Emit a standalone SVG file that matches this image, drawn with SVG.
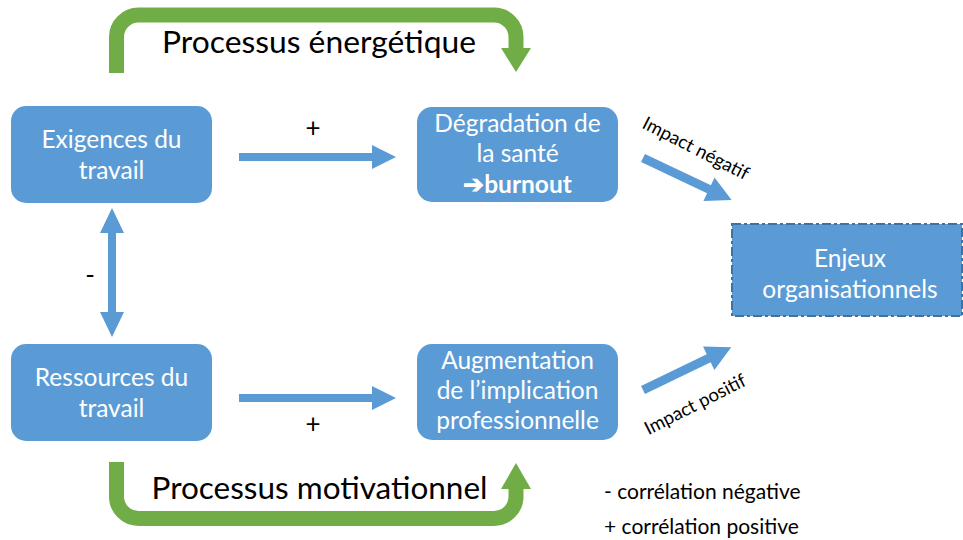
<svg xmlns="http://www.w3.org/2000/svg" width="963" height="540" viewBox="0 0 963 540">
  <style>
    .box { fill: #5b9bd5; }
    .boxtext { font-family: Lato, "Open Sans", sans-serif; font-size: 24.5px; fill: #ffffff; text-anchor: middle; }
    .arrow { fill: #5b9bd5; }
    .uturn { fill: none; stroke: #70ad47; stroke-width: 15; }
    .head { fill: #70ad47; }
    .label { font-family: Lato, "Open Sans", sans-serif; fill: #000000; }
  </style>
  <rect width="963" height="540" fill="#ffffff"/>

  <!-- connectors -->
  <g id="connectors">
    <!-- energy process U-turn -->
    <path class="uturn" d="M116.5 73 V37 A22 22 0 0 1 138.5 15 H494 A22 22 0 0 1 516 37 V49"/>
    <polygon class="head" points="501,48 531,48 516,72"/>
    <!-- motivational process U-turn -->
    <path class="uturn" d="M116.5 462 V496.5 A22 22 0 0 0 138.5 518.5 H494 A22 22 0 0 0 516 496.5 V487"/>
    <polygon class="head" points="501,489 531,489 516,463"/>
    <!-- demands -> health -->
    <polygon class="arrow" points="239,153 372,153 372,145 396,157 372,169 372,161 239,161"/>
    <!-- resources -> engagement -->
    <polygon class="arrow" points="239,394 372,394 372,386 396,398 372,410 372,402 239,402"/>
    <!-- demands <-> resources -->
    <polygon class="arrow" points="112,208 124,233 116,233 116,312 124,312 112,337 100,312 108,312 108,233 100,233"/>
    <!-- impacts -->
    <polygon class="arrow" transform="translate(643,158) rotate(25.3)" points="0,-4.5 73,-4.5 73,-13 98,0 73,13 73,4.5 0,4.5"/>
    <polygon class="arrow" transform="translate(643,390) rotate(-25.8)" points="0,-4.5 73,-4.5 73,-13 98,0 73,13 73,4.5 0,4.5"/>

    <text class="label" x="319" y="53" font-size="31.8" text-anchor="middle">Processus énergétique</text>
    <text class="label" x="319.5" y="499" font-size="31.5" text-anchor="middle">Processus motivationnel</text>
    <text class="label" x="313" y="137" font-size="26" text-anchor="middle">+</text>
    <text class="label" x="313" y="433" font-size="26" text-anchor="middle">+</text>
    <text class="label" x="90" y="284" font-size="26" text-anchor="middle">-</text>
    <text class="label" font-size="18.5" text-anchor="middle" transform="translate(693,154) rotate(27)">Impact négatif</text>
    <text class="label" font-size="18.5" text-anchor="middle" transform="translate(698,410) rotate(-27)">Impact positif</text>
  </g>

  <g id="exigences">
    <rect class="box" x="11" y="106" width="201" height="97" rx="15"/>
    <text class="boxtext" x="111.5" y="148">Exigences du</text>
    <text class="boxtext" x="111.5" y="179">travail</text>
  </g>

  <g id="ressources">
    <rect class="box" x="11" y="344" width="201" height="97" rx="15"/>
    <text class="boxtext" x="111.5" y="386">Ressources du</text>
    <text class="boxtext" x="111.5" y="417">travail</text>
  </g>

  <g id="degradation">
    <rect class="box" x="417" y="107" width="201" height="95" rx="15"/>
    <text class="boxtext" x="517.5" y="132">Dégradation de</text>
    <text class="boxtext" x="517.5" y="162">la santé</text>
    <text class="boxtext" x="517.5" y="193" font-weight="bold">➔burnout</text>
  </g>

  <g id="augmentation">
    <rect class="box" x="417" y="344" width="201" height="96" rx="15"/>
    <text class="boxtext" x="517.5" y="369">Augmentation</text>
    <text class="boxtext" x="517.5" y="399">de l’implication</text>
    <text class="boxtext" x="517.5" y="429">professionnelle</text>
  </g>

  <g id="enjeux">
    <rect class="box" x="732" y="224" width="230" height="92" stroke="#41719c" stroke-width="2" stroke-dasharray="9 3 3 3"/>
    <text class="boxtext" x="850" y="267">Enjeux</text>
    <text class="boxtext" x="850" y="298">organisationnels</text>
  </g>

  <g id="legend">
    <text class="label" x="604" y="499" font-size="21">- corrélation négative</text>
    <text class="label" x="604" y="534" font-size="21">+ corrélation positive</text>
  </g>
</svg>
